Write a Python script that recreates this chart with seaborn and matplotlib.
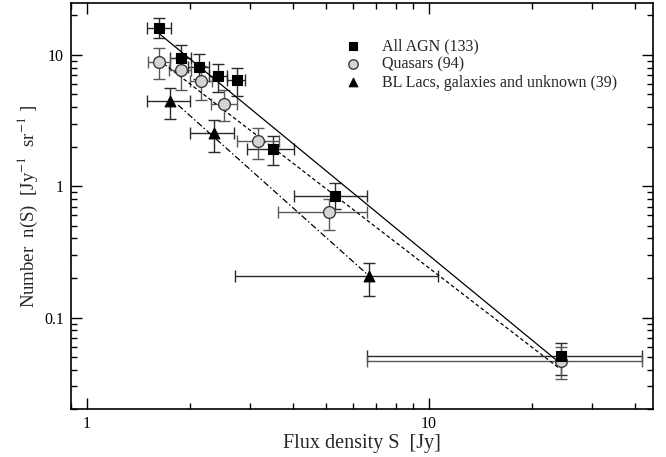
import numpy as np
import pandas as pd
import matplotlib
matplotlib.use("Agg")
import matplotlib.pyplot as plt
import seaborn as sns
from matplotlib.ticker import FixedLocator, FixedFormatter, LogLocator, NullFormatter

# ---------------- data ----------------
# All AGN (squares)
agn_S = [1.626, 1.888, 2.131, 2.426, 2.750, 3.495, 5.30, 24.29]
agn_S_lo = [1.500, 1.750, 1.983, 2.279, 2.577, 2.935, 4.032, 6.58]
agn_S_hi = [1.762, 2.020, 2.279, 2.567, 2.908, 4.032, 6.57, 41.9]
agn_n = [16.0, 9.47, 8.13, 6.86, 6.45, 1.91, 0.844, 0.0510]
agn_n_lo = [13.4, 7.72, 6.59, 5.19, 4.83, 1.45, 0.665, 0.0365]
agn_n_hi = [19.2, 11.9, 10.2, 8.57, 7.99, 2.41, 1.06, 0.0643]

# Quasars (circles)
qso_S = [1.626, 1.888, 2.156, 2.526, 3.173, 5.11, 24.29]
qso_S_lo = [1.506, 1.735, 2.006, 2.310, 2.745, 3.614, 6.58]
qso_S_hi = [1.746, 2.016, 2.320, 2.745, 3.653, 6.57, 41.9]
qso_n = [8.88, 7.62, 6.31, 4.23, 2.21, 0.638, 0.0467]
qso_n_lo = [6.51, 5.37, 4.56, 3.12, 1.62, 0.463, 0.0339]
qso_n_hi = [11.3, 9.62, 8.18, 5.37, 2.79, 0.796, 0.0600]

# BL Lacs, galaxies and unknown (triangles)
bll_S = [1.750, 2.357, 6.67]
bll_S_lo = [1.500, 2.006, 2.708]
bll_S_hi = [2.006, 2.701, 10.62]
bll_n = [4.47, 2.55, 0.208]
bll_n_lo = [3.27, 1.82, 0.146]
bll_n_hi = [5.63, 3.22, 0.261]

# power-law fits (end points)
agn_fit_S = [1.63, 23.5]
agn_fit_n = [14.5, 0.0476]
qso_fit_S = [1.68, 24.0]
qso_fit_n = [8.57, 0.0411]
bll_fit_S = [1.85, 6.8]
bll_fit_n = [4.15, 0.199]

labels = ["All AGN (133)", "Quasars (94)", "BL Lacs, galaxies and unknown (39)"]
x_ticks = [1, 10]
x_tick_labels = ["1", "10"]
y_ticks = [0.1, 1, 10]
y_tick_labels = ["0.1", "1", "10"]

# ---------------- style ----------------
sns.set_theme(style="ticks")
plt.rcParams["font.family"] = ["Liberation Serif", "DejaVu Serif"]
plt.rcParams["mathtext.fontset"] = "stix"

fig = plt.figure(figsize=(6.66, 4.57), dpi=100)
ax = fig.add_axes([0.1066, 0.1044, 0.98 - 0.1066, 0.9941 - 0.1044])
ax.set_xscale("log")
ax.set_yscale("log")


def draw_err(S, S_lo, S_hi, n, n_lo, n_hi, color):
    S = np.asarray(S); n = np.asarray(n)
    xerr = [S - np.asarray(S_lo), np.asarray(S_hi) - S]
    yerr = [n - np.asarray(n_lo), np.asarray(n_hi) - n]
    ax.errorbar(S, n, xerr=xerr, yerr=yerr, fmt="none", ecolor=color,
                elinewidth=1.0, capsize=4, capthick=1.0, zorder=2)


draw_err(agn_S, agn_S_lo, agn_S_hi, agn_n, agn_n_lo, agn_n_hi, "#2a2a2a")
draw_err(qso_S, qso_S_lo, qso_S_hi, qso_n, qso_n_lo, qso_n_hi, "#5a5a5a")
draw_err(bll_S, bll_S_lo, bll_S_hi, bll_n, bll_n_lo, bll_n_hi, "#2a2a2a")

# fit lines
sns.lineplot(x=agn_fit_S, y=agn_fit_n, ax=ax, color="black", lw=0.9,
             linestyle="-", zorder=3)
sns.lineplot(x=qso_fit_S, y=qso_fit_n, ax=ax, color="black", lw=0.9,
             linestyle=(0, (3.0, 2.0)), zorder=3)
sns.lineplot(x=bll_fit_S, y=bll_fit_n, ax=ax, color="black", lw=0.9,
             linestyle=(0, (5.0, 2.0, 1.2, 2.0)), zorder=3)

# markers
sns.scatterplot(x=agn_S, y=agn_n, ax=ax, marker="s", s=52, color="black",
                edgecolor="black", linewidth=0.8, zorder=5, label=labels[0])
sns.scatterplot(x=qso_S, y=qso_n, ax=ax, marker="o", s=72, color="#d4d4d4",
                edgecolor="#3a3a3a", linewidth=1.0, zorder=4, label=labels[1])
sns.scatterplot(x=bll_S, y=bll_n, ax=ax, marker="^", s=60, color="black",
                edgecolor="black", linewidth=0.8, zorder=5, label=labels[2])

ax.set_xlim(0.9, 45)
ax.set_ylim(0.02, 25)

ax.xaxis.set_major_locator(FixedLocator(x_ticks))
ax.xaxis.set_major_formatter(FixedFormatter(x_tick_labels))
ax.yaxis.set_major_locator(FixedLocator(y_ticks))
ax.yaxis.set_major_formatter(FixedFormatter(y_tick_labels))
ax.xaxis.set_minor_locator(LogLocator(base=10, subs=np.arange(2, 10), numticks=20))
ax.yaxis.set_minor_locator(LogLocator(base=10, subs=np.arange(2, 10), numticks=20))
ax.xaxis.set_minor_formatter(NullFormatter())
ax.yaxis.set_minor_formatter(NullFormatter())

ax.tick_params(which="both", direction="in", top=True, right=True,
               colors="black", labelsize=11.5)
ax.tick_params(which="major", length=8, width=1.0, pad=5)
ax.tick_params(which="minor", length=4.5, width=1.0)
for sp in ax.spines.values():
    sp.set_linewidth(1.2)
    sp.set_color("black")

ax.set_xlabel("Flux density S  [Jy]", fontsize=14.5, labelpad=1)
ax.set_ylabel("Number  n(S)  [Jy$^{-1}$  sr$^{-1}$ ]", fontsize=13.5, labelpad=3)

leg = ax.legend(loc="upper left", bbox_to_anchor=(0.457, 0.928), frameon=False,
                fontsize=11.5, handletextpad=1.2, labelspacing=0.13,
                borderaxespad=0, handlelength=1.2, markerscale=0.8)

fig.savefig("out.png", dpi=100)
